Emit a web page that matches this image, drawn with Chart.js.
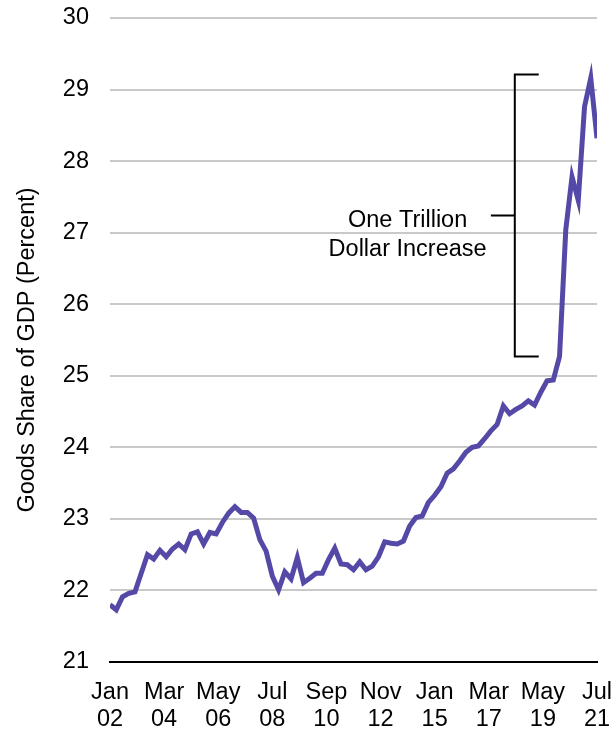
<!DOCTYPE html>
<html>
<head>
<meta charset="utf-8">
<script src="https://cdn.jsdelivr.net/npm/chart.js@4.4.0/dist/chart.umd.min.js"></script>
<style>
  html, body { margin: 0; padding: 0; background: #fff; }
</style>
</head>
<body>
<canvas id="canvas" width="613" height="732"></canvas>
<script>
  // quarterly goods share of GDP, Q1 2002 .. Q3 2021 (one value per quarter)
  var share = [
    21.80, 21.73, 21.91, 21.96, 21.98, 22.24, 22.50, 22.44, 22.56, 22.47,
    22.58, 22.65, 22.57, 22.79, 22.82, 22.65, 22.81, 22.79, 22.95, 23.08,
    23.17, 23.09, 23.09, 23.01, 22.71, 22.55, 22.20, 22.01, 22.26, 22.16,
    22.46, 22.11, 22.17, 22.24, 22.24, 22.43, 22.59, 22.37, 22.36, 22.29,
    22.40, 22.29, 22.34, 22.47, 22.68, 22.66, 22.65, 22.69, 22.90, 23.02,
    23.04, 23.23, 23.33, 23.45, 23.64, 23.70, 23.81, 23.93, 24.00, 24.02,
    24.12, 24.23, 24.32, 24.58, 24.47, 24.53, 24.58, 24.65, 24.59, 24.77,
    24.93, 24.94, 25.27, 27.04, 27.78, 27.45, 28.76, 29.16, 28.32
  ];

  // x axis runs in months since Jan 2002, labelled every 26 months
  var tickLabels = [
    ['Jan', '02'], ['Mar', '04'], ['May', '06'], ['Jul', '08'], ['Sep', '10'],
    ['Nov', '12'], ['Jan', '15'], ['Mar', '17'], ['May', '19'], ['Jul', '21']
  ];
  var tickStep = 26;
  var yTitle = 'Goods Share of GDP (Percent)';

  // bracket: from pre-pandemic level up to the peak
  var bracketRange = [25.27, 29.21];
  var bracketMonths = [183, 194.5, 206]; // middle tick start, spine, arm end
  var noteLines = ['One Trillion', 'Dollar Increase'];
  var noteAt = { month: 143, value: 27.17 };

  var points = share.map(function (v, i) { return { x: i * 3, y: v }; });

  var FONT = "'Liberation Sans', Arial, sans-serif";

  var bracket = {
    id: 'bracket',
    afterDatasetsDraw: function (chart) {
      var ctx = chart.ctx;
      var x = chart.scales.x, y = chart.scales.y;
      var xTick = x.getPixelForValue(bracketMonths[0]);
      var xSpine = x.getPixelForValue(bracketMonths[1]);
      var xArm = x.getPixelForValue(bracketMonths[2]);
      var yLow = y.getPixelForValue(bracketRange[0]);
      var yHigh = y.getPixelForValue(bracketRange[1]);
      var yMid = (yLow + yHigh) / 2;

      ctx.save();
      ctx.strokeStyle = '#000';
      ctx.lineWidth = 2;
      ctx.beginPath();
      ctx.moveTo(xArm, yHigh);
      ctx.lineTo(xSpine, yHigh);
      ctx.lineTo(xSpine, yLow);
      ctx.lineTo(xArm, yLow);
      ctx.moveTo(xTick, yMid);
      ctx.lineTo(xSpine, yMid);
      ctx.stroke();

      ctx.fillStyle = '#000';
      ctx.font = '23.5px ' + FONT;
      ctx.textAlign = 'center';
      ctx.textBaseline = 'middle';
      var tx = x.getPixelForValue(noteAt.month);
      var ty = y.getPixelForValue(noteAt.value);
      noteLines.forEach(function (line, i) {
        ctx.fillText(line, tx, ty + i * 29);
      });

      // rotated y axis title, sitting a little below the plot's middle
      ctx.translate(28, (chart.chartArea.top + chart.chartArea.bottom) / 2 + 10);
      ctx.rotate(-Math.PI / 2);
      ctx.fillText(yTitle, 0, 0);
      ctx.restore();
    }
  };

  var ctx = document.getElementById('canvas').getContext('2d');
  var chart = new Chart(ctx, {
    type: 'line',
    data: {
      datasets: [{
        data: points,
        borderColor: '#5549a7',
        borderWidth: 5,
        pointRadius: 0,
        tension: 0,
        fill: false
      }]
    },
    options: {
      responsive: false,
      animation: false,
      devicePixelRatio: 1,
      layout: { padding: { top: 18, right: 16, left: 0, bottom: 0 } },
      plugins: { legend: { display: false }, tooltip: { enabled: false } },
      scales: {
        x: {
          type: 'linear',
          min: 0,
          max: (tickLabels.length - 1) * tickStep,
          afterFit: function (scale) {
            scale.height = 70;
            scale.paddingLeft = 0;
            scale.paddingRight = 0;
          },
          border: { display: true, color: '#000', width: 2 },
          grid: { display: false, drawTicks: false },
          ticks: {
            stepSize: tickStep,
            maxRotation: 0,
            autoSkip: false,
            padding: 17,
            color: '#000',
            font: { family: FONT, size: 23.5, lineHeight: 1.15 },
            callback: function (v) { return tickLabels[Math.round(v / tickStep)]; }
          }
        },
        y: {
          min: 21,
          max: 30,
          afterFit: function (scale) {
            scale.width = 110;
            scale.paddingTop = 0;
            scale.paddingBottom = 0;
          },
          border: { display: false },
          grid: {
            drawTicks: false,
            lineWidth: 2,
            color: function (c) { return c.tick.value === 21 ? 'rgba(0,0,0,0)' : '#c9c9c9'; }
          },
          ticks: {
            stepSize: 1,
            padding: 21,
            color: '#000',
            font: { family: FONT, size: 23.5 }
          }
        }
      }
    },
    plugins: [bracket]
  });
</script>
</body>
</html>
